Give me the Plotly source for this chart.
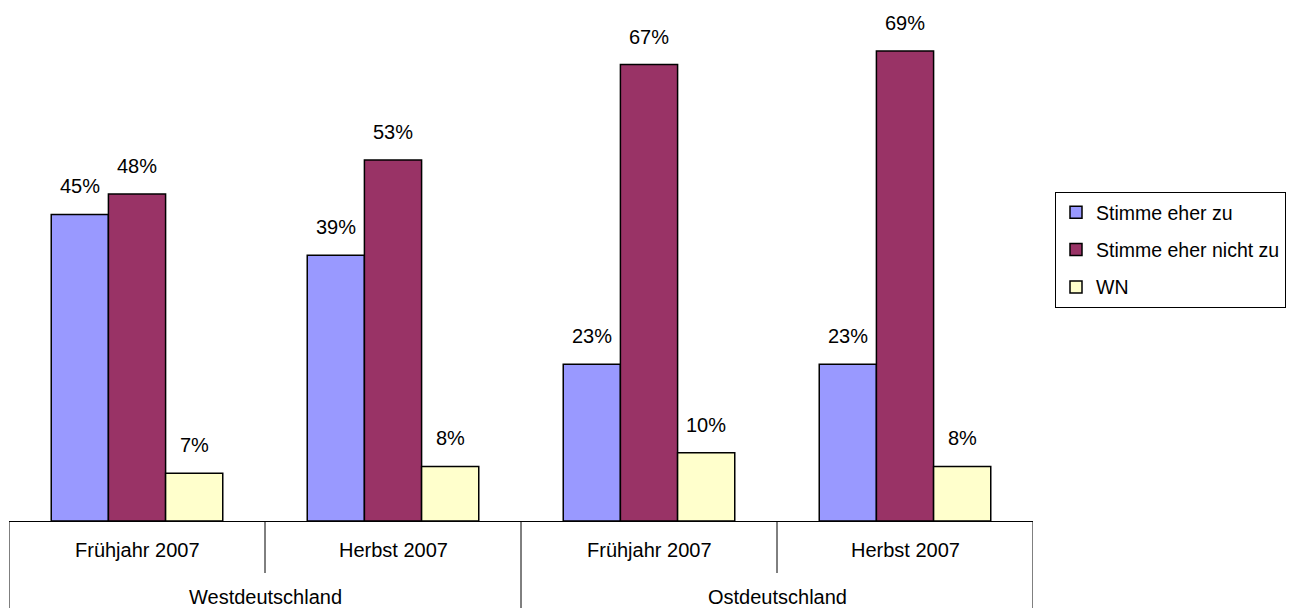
import plotly.graph_objects as go

regions = ["Westdeutschland", "Ostdeutschland"]
periods = ["Frühjahr 2007", "Herbst 2007", "Frühjahr 2007", "Herbst 2007"]
series_names = ["Stimme eher zu", "Stimme eher nicht zu", "WN"]
stimme_zu = [45, 39, 23, 23]
stimme_nicht_zu = [48, 53, 67, 69]
wn = [7, 8, 10, 8]
colors = ["#9999FF", "#993366", "#FFFFCC"]

series = [stimme_zu, stimme_nicht_zu, wn]
xpos = list(range(len(periods)))

FONT = "Arial, Liberation Sans, sans-serif"
# page body has an 8px margin, so the figure is drawn 8px in from top-left
W, H = 1291, 600
ML, MR, MT, MB = 1, 266, 2, 87
plot_h = H - MT - MB
plot_w = W - ML - MR
bargap = 0.33
bw = (1 - bargap) / 3

fig = go.Figure()
for k, (name, vals, col) in enumerate(zip(series_names, series, colors)):
    fig.add_trace(go.Bar(
        x=xpos, y=vals, name=name, legendgroup=name,
        marker=dict(color=col, line=dict(color="black", width=1.5)),
        hoverinfo="skip",
    ))
    for i, v in zip(xpos, vals):
        fig.add_annotation(
            x=i + (k - 1) * bw, y=v, xref="x", yref="y",
            text=f"{v}%", showarrow=False, yanchor="middle", yshift=28,
            font=dict(family=FONT, size=20, color="black"),
        )

# category labels
for i, p in zip(xpos, periods):
    fig.add_annotation(x=i, y=-29 / plot_h, xref="x", yref="paper", text=p,
                       showarrow=False, yanchor="middle",
                       font=dict(family=FONT, size=20, color="black"))
for j, r in enumerate(regions):
    fig.add_annotation(x=2 * j + 0.5, y=-76 / plot_h, xref="x", yref="paper", text=r,
                       showarrow=False, yanchor="middle",
                       font=dict(family=FONT, size=20, color="black"))

# divider lines
for b in [-0.5, 0.5, 1.5, 2.5, 3.5]:
    full = b in (-0.5, 1.5, 3.5)
    y1 = -87 / plot_h if full else -52 / plot_h
    fig.add_shape(type="line", xref="x", yref="paper", x0=b, x1=b, y0=0, y1=y1,
                  line=dict(color="black", width=1))

fig.update_layout(
    width=W, height=H,
    margin=dict(l=ML, r=MR, t=MT, b=MB, autoexpand=False),
    paper_bgcolor="white", plot_bgcolor="white",
    barmode="group", bargap=bargap, bargroupgap=0,
    showlegend=True,
    legend=dict(
        x=(1047 - ML) / plot_w, xanchor="left",
        y=(H - MB - 184) / plot_h, yanchor="top",
        bordercolor="black", borderwidth=1, bgcolor="white",
        font=dict(family=FONT, size=19.5, color="black"),
        traceorder="grouped", tracegroupgap=9, itemwidth=30,
    ),
    xaxis=dict(range=[-0.5, 3.5], showticklabels=False, showgrid=False,
               zeroline=False, showline=True, linecolor="black", linewidth=1,
               ticks=""),
    yaxis=dict(range=[0, 75], visible=False, showgrid=False, zeroline=False),
)

fig.write_html("out.html")
